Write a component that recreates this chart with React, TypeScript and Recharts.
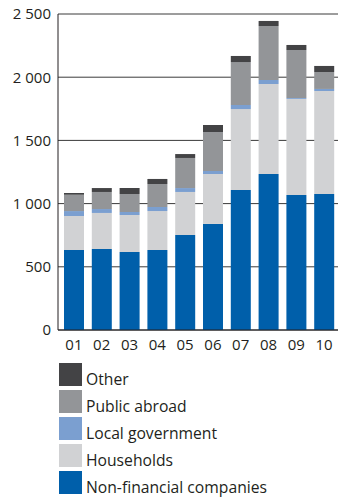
import { BarChart, Bar, XAxis, YAxis, CartesianGrid } from 'recharts'

const years = ['01', '02', '03', '04', '05', '06', '07', '08', '09', '10']
const nonFinancial = [633, 641, 617, 633, 752, 839, 1108, 1234, 1068, 1076]
const households = [269, 285, 293, 308, 340, 395, 640, 712, 760, 815]
const localGov = [39, 31, 24, 32, 31, 24, 32, 32, 7, 16]
const publicAbroad = [129, 135, 142, 182, 238, 308, 340, 427, 380, 134]
const other = [14, 31, 47, 40, 31, 56, 48, 40, 40, 48]
const yTicks = [0, 500, 1000, 1500, 2000, 2500]

const series = [
  { key: 'nonFinancial', name: 'Non-financial companies', color: '#005faa', values: nonFinancial },
  { key: 'households', name: 'Households', color: '#d1d2d4', values: households },
  { key: 'localGov', name: 'Local government', color: '#7b9fd0', values: localGov },
  { key: 'publicAbroad', name: 'Public abroad', color: '#939598', values: publicAbroad },
  { key: 'other', name: 'Other', color: '#434345', values: other },
]

const data = years.map((year, i) => {
  const row: Record<string, string | number> = { year }
  series.forEach(s => { row[s.key] = s.values[i] })
  return row
})

const font = '"Open Sans", sans-serif'
const fmt = (v: number) => (v >= 1000 ? `${Math.floor(v / 1000)} ${String(v % 1000).padStart(3, '0')}` : String(v))

export default function App() {
  return (
    <div style={{ position: 'absolute', left: 0, top: 0, width: 338, height: 500, fontFamily: font, color: '#231f20' }}>
      <BarChart width={338} height={360} data={data} margin={{ top: 14, right: 0, bottom: 0, left: 0 }}>
        <CartesianGrid vertical={false} stroke="#3a3a3a" strokeOpacity={1} />
        <XAxis
          dataKey="year"
          height={30}
          padding={{ left: 2, right: 0 }}
          tickLine={false}
          tickSize={0}
          tickMargin={9}
          axisLine={{ stroke: '#231f20' }}
          tick={{ fill: '#231f20', fontSize: 15, fontFamily: font }}
        />
        <YAxis
          width={58}
          domain={[0, 2500]}
          ticks={yTicks}
          tickFormatter={fmt}
          tickLine={false}
          tickSize={0}
          tickMargin={7}
          axisLine={{ stroke: '#231f20' }}
          tick={{ fill: '#231f20', fontSize: 15, fontFamily: font }}
        />
        {series.map(s => (
          <Bar key={s.key} dataKey={s.key} name={s.name} stackId="a" fill={s.color} barSize={20} isAnimationActive={false} />
        ))}
      </BarChart>
      <div style={{ position: 'absolute', left: 59, top: 363 }}>
        {[...series].reverse().map(s => (
          <div key={s.key} style={{ display: 'flex', alignItems: 'flex-end', height: 27 }}>
            <div style={{ width: 23, height: 23, background: s.color, marginBottom: 4 }} />
            <span style={{ fontSize: 15.7, lineHeight: 1, marginLeft: 4, marginBottom: 2 }}>{s.name}</span>
          </div>
        ))}
      </div>
    </div>
  )
}
